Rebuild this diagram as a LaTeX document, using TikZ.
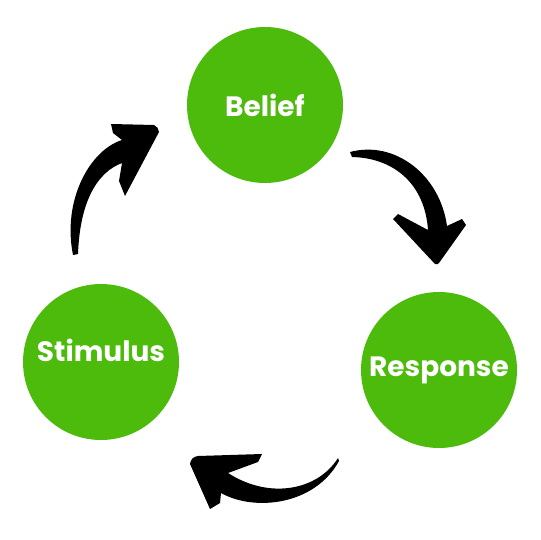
\documentclass[tikz,border=0pt]{standalone}
\usepackage{fontspec}
\setmainfont{Poppins}
\usetikzlibrary{positioning}
\definecolor{cyclegreen}{RGB}{76, 187, 12}
\definecolor{brushblack}{RGB}{0, 0, 0}

\begin{document}
\begin{tikzpicture}[
  x=1pt, y=-1pt,
  stage/.style={circle, fill=cyclegreen, minimum size=156pt, inner sep=0pt,
                text=white, font=\fontsize{28}{30}\selectfont\bfseries},
  brush/.style={fill=brushblack},
]
  \useasboundingbox (0,0) rectangle (540,540);

  \node[stage] (belief) at (265,105) {Belief};
  \node[stage, text depth=24pt] (stimulus) at (101,362) {Stimulus};
  \node[stage] (response) at (439,370) {Response};

  % tails and tips of the brush arrows
  \coordinate (ta) at (73,255);
  \coordinate (ha) at (159,132);
  \coordinate (tb) at (350,152);
  \coordinate (hb) at (435,264);
  \coordinate (tc) at (338,458);
  \coordinate (hc) at (190,464);

  % stimulus -> belief
  \fill[brush] (ta) .. controls (62,200) and (90,150) .. (122,140)
    -- (113,133) -- (111,124) -- (154,125) to[bend left=30] (ha)
    -- (125,196) -- (119,181) -- (122,163)
    .. controls (98,172) and (80,200) .. (78,254) -- cycle;

  % belief -> response
  \fill[brush] (tb) .. controls (395,140) and (440,175) .. (447,226)
    -- (462,219) -- (466,225) -- (439,263) to[bend left=40] (hb)
    -- (393,219) -- (398,214) -- (428,230)
    .. controls (425,185) and (395,158) .. (352,157) -- cycle;

  % response -> stimulus
  \fill[brush] (tc) .. controls (318,490) and (270,500) .. (228,473)
    -- (258,462) -- (262,454) -- (198,456) to[bend right=40] (hc)
    -- (210,509) -- (220,503) -- (221,493)
    .. controls (255,512) and (315,505) .. (339,461) -- cycle;
\end{tikzpicture}
\end{document}
